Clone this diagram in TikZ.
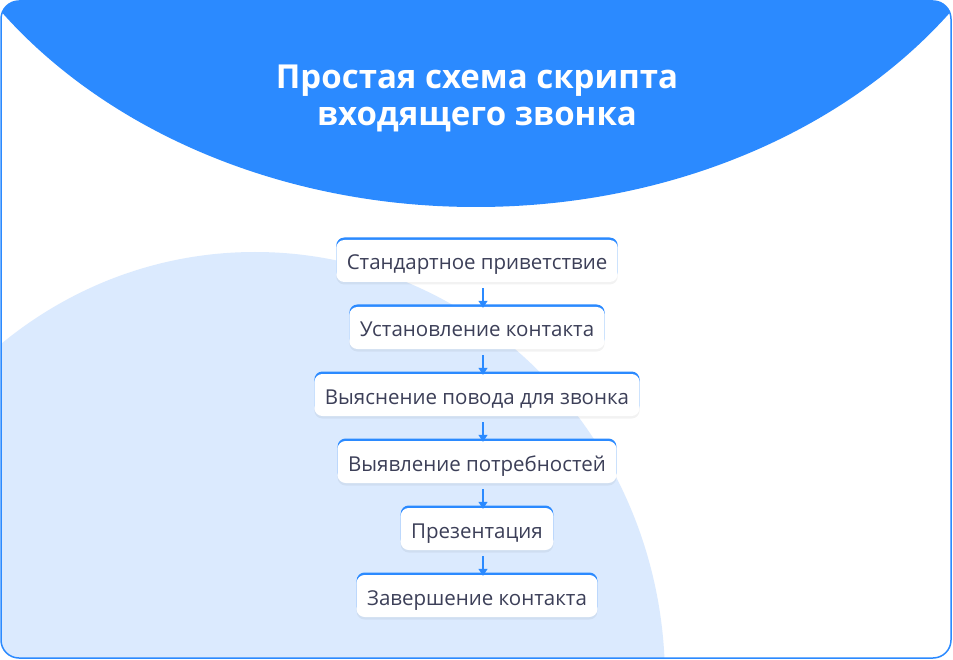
\documentclass[tikz,border=0pt]{standalone}
\usepackage{fontspec}
\setmainfont{Open Sans}
\usetikzlibrary{arrows.meta}
\definecolor{mainblue}{HTML}{2B8AFF}
\definecolor{lightblue}{HTML}{DBEAFE}
\definecolor{textdark}{HTML}{3C3F58}
\begin{document}
\begin{tikzpicture}[x=1pt,y=-1pt,
  stepbox/.style={fill=white, rounded corners=8pt, minimum height=42pt, inner xsep=10.5pt,
    text height=20pt, text depth=2pt,
    text=textdark, font=\fontsize{20.5}{23}\selectfont,
    preaction={fill=black, opacity=0.05, transform canvas={yshift=-2.5pt}},
    preaction={fill=mainblue, transform canvas={yshift=2.5pt}}},
  flow/.style={mainblue, line width=1.3pt, -{Triangle[length=7pt,width=9pt]}},
  titletext/.style={text=white, align=center, font=\bfseries\fontsize{33}{37}\selectfont}]
\useasboundingbox (0,0) rectangle (953,660);
% frame background and decorative shapes
\path[fill=white, rounded corners=18pt] (1,1) rectangle (951,658);
\begin{scope}
  \clip[rounded corners=18pt] (1,1) rectangle (951,658);
  \fill[lightblue] (255,680) ellipse [x radius=410, y radius=428];
  \fill[mainblue] (476,-250) ellipse [x radius=579, y radius=457];
\end{scope}
\draw[mainblue, line width=1.5pt, rounded corners=18pt] (1,1) rectangle (951,658);
% title
\node[titletext] (title) at (477,98) {Простая схема скрипта\\входящего звонка};
% steps
\node[stepbox] (s1) at (477,261) {Стандартное приветствие};
\node[stepbox] (s2) at (477,328) {Установление контакта};
\node[stepbox] (s3) at (477,395) {Выяснение повода для звонка};
\node[stepbox] (s4) at (477,462) {Выявление потребностей};
\node[stepbox] (s5) at (477,529) {Презентация};
\node[stepbox] (s6) at (477,596) {Завершение контакта};
% connectors
\foreach \a/\b in {s1/s2,s2/s3,s3/s4,s4/s5,s5/s6}{
  \draw[flow] ([xshift=6pt,yshift=-6pt]\a.south) -- ([xshift=6pt,yshift=-1pt]\b.north);
}
\end{tikzpicture}
\end{document}
